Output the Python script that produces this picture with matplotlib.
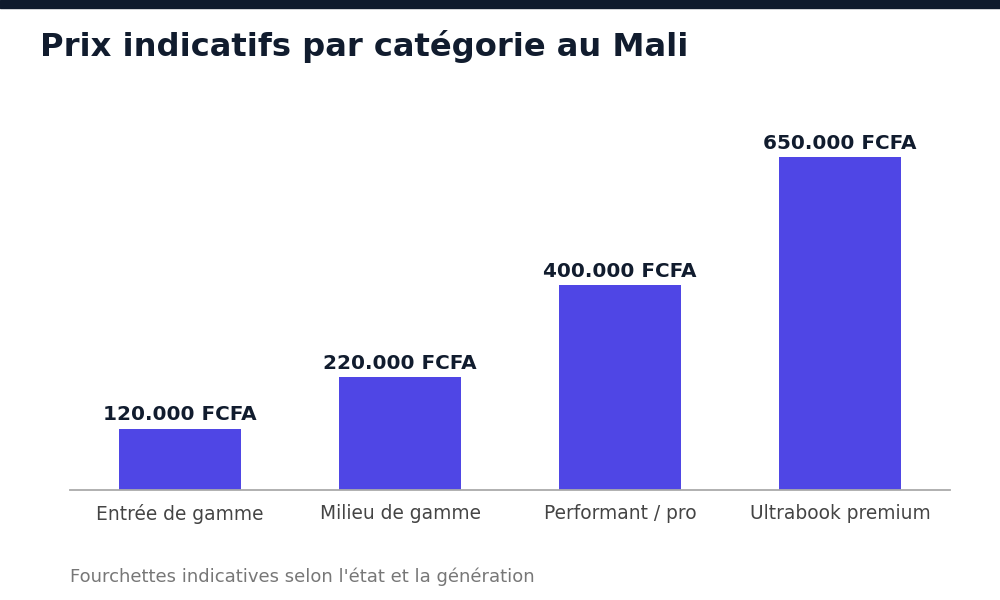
import matplotlib
matplotlib.use("Agg")
import matplotlib.pyplot as plt
from matplotlib.patches import Rectangle

plt.rcParams['font.family'] = ['DejaVu Sans']

# prix indicatifs (FCFA)
categories = ["Entrée de gamme", "Milieu de gamme", "Performant / pro", "Ultrabook premium"]
prix = [120000, 220000, 400000, 650000]

def fcfa(v):
    return "{:,}".format(v).replace(",", ".") + " FCFA"

fig = plt.figure(figsize=(10, 6), dpi=100)
fig.patch.set_facecolor("white")

# bande sombre en haut
fig.patches.append(Rectangle((0, 1 - 8 / 600), 1, 8 / 600, transform=fig.transFigure,
                             color="#0f1b2d", zorder=0))

ax = fig.add_axes([0.07, 1 - 490 / 600, 0.88, 390 / 600])
x = range(len(categories))
bars = ax.bar(x, prix, width=0.555, color="#4f46e5", zorder=2)

for b, v in zip(bars, prix):
    ax.text(b.get_x() + b.get_width() / 2, v + 8000, fcfa(v), ha="center", va="bottom",
            fontsize=14.4, fontweight="bold", color="#111c2e")

ax.set_xlim(-0.5, 3.5)
ax.set_ylim(0, 761000)
ax.set_xticks(list(x))
ax.set_xticklabels(categories, fontsize=13.4, color="#444444")
ax.tick_params(axis="x", length=0, pad=10)
ax.set_yticks([])
for s in ["top", "right", "left"]:
    ax.spines[s].set_visible(False)
ax.spines["bottom"].set_color("#aaaaaa")
ax.spines["bottom"].set_linewidth(1.3)

fig.text(0.04, 1 - 56 / 600, "Prix indicatifs par catégorie au Mali", fontsize=23.1,
         fontweight="bold", color="#111c2e", ha="left", va="baseline")
fig.text(0.07, 1 - 582 / 600, "Fourchettes indicatives selon l'état et la génération",
         fontsize=13, color="#777777", ha="left", va="baseline")

fig.savefig("out.png", dpi=100)
